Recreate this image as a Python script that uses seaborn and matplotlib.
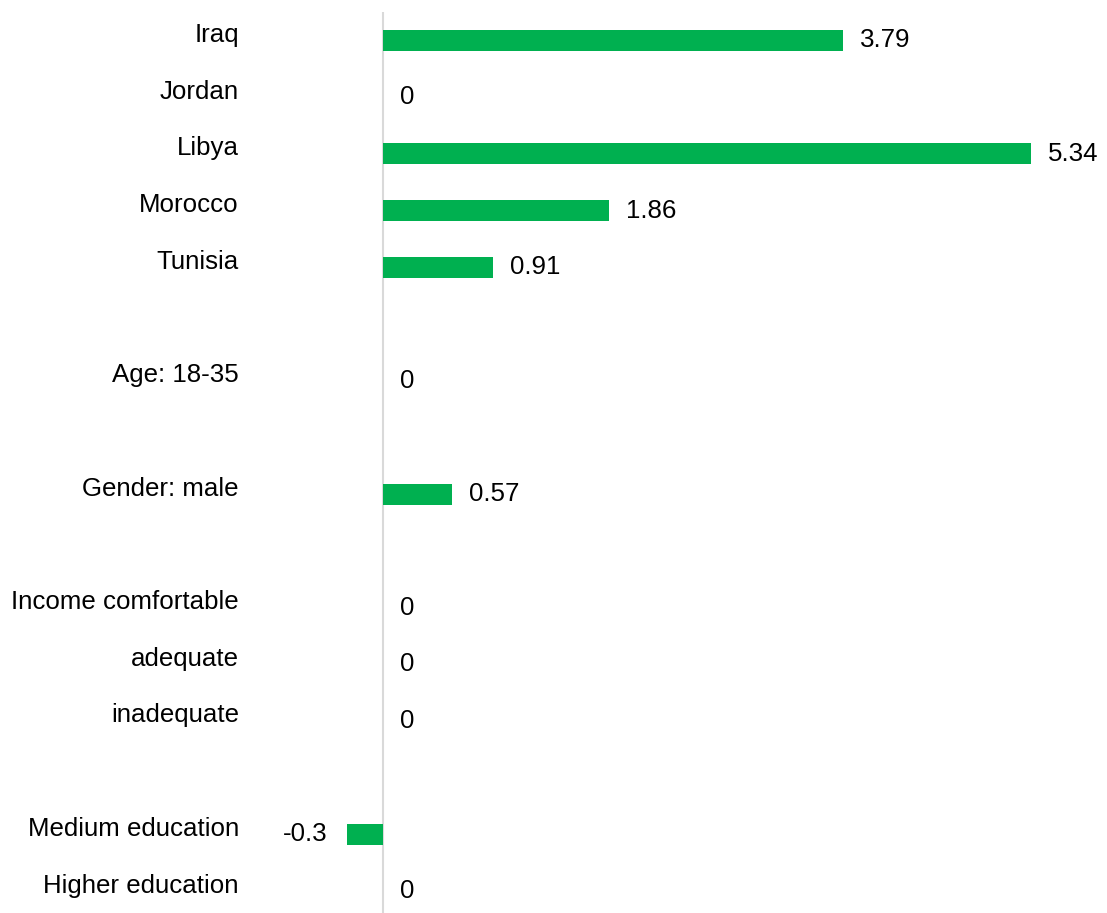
import numpy as np
import pandas as pd
import matplotlib
matplotlib.use("Agg")
import matplotlib.pyplot as plt
import matplotlib.transforms as mtransforms
import seaborn as sns

# ---- data ----
categories = ["Iraq", "Jordan", "Libya", "Morocco", "Tunisia", " ",
              "Age: 18-35", "  ", "Gender: male", "   ",
              "Income comfortable", "adequate", "inadequate", "    ",
              "Medium education", "Higher education"]
values = [3.79, 0, 5.34, 1.86, 0.91, np.nan,
          0, np.nan, 0.57, np.nan,
          0, 0, 0, np.nan,
          -0.3, 0]

df = pd.DataFrame({"category": categories, "value": values})

sns.set_theme(style="white")
plt.rcParams["font.family"] = ["Liberation Sans", "DejaVu Sans"]

FS = 18.6
W, H = 1107, 913
fig = plt.figure(figsize=(W / 100, H / 100), dpi=100)
ax = fig.add_axes([250 / W, 0, (1100 - 250) / W, 901 / H])

sns.barplot(data=df, x="value", y="category", order=categories, orient="h",
            color="#00B050", width=0.37, saturation=1, ax=ax, errorbar=None,
            linewidth=0, edgecolor="none")

ax.set_xlim((250 - 383) / 121.35, (1100 - 383) / 121.35)
ax.set_ylim((913 - 40.5) / 56.7, (12 - 40.5) / 56.7)
ax.axvline(0, color="#d9d9d9", lw=1.5, zorder=0.5)

for s in ax.spines.values():
    s.set_visible(False)
ax.set_xticks([])
ax.set_xlabel("")
ax.set_ylabel("")
ax.tick_params(axis="y", length=0, pad=8, labelsize=FS, labelcolor="black")

shift = mtransforms.ScaledTranslation(0, 8 / 100, fig.dpi_scale_trans)
for lab in ax.get_yticklabels():
    lab.set_transform(lab.get_transform() + shift)

for i, v in enumerate(values):
    if np.isnan(v):
        continue
    txt = f"{v:g}"
    if v < 0:
        ax.annotate(txt, (v, i), xytext=(-19, 0), textcoords="offset pixels",
                    ha="right", va="center", fontsize=FS, color="black")
    else:
        ax.annotate(txt, (v, i), xytext=(17, 0), textcoords="offset pixels",
                    ha="left", va="center", fontsize=FS, color="black")

fig.savefig("out.png", dpi=100)
